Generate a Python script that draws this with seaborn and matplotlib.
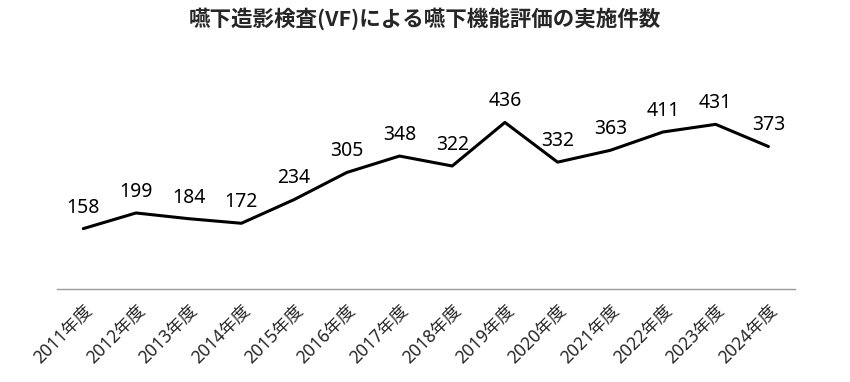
import matplotlib
import pandas as pd
import seaborn as sns

matplotlib.use("Agg")
import matplotlib.pyplot as plt

years = ["2011年度", "2012年度", "2013年度", "2014年度", "2015年度", "2016年度", "2017年度",
         "2018年度", "2019年度", "2020年度", "2021年度", "2022年度", "2023年度", "2024年度"]
counts = [158, 199, 184, 172, 234, 305, 348, 322, 436, 332, 363, 411, 431, 373]
title = "嚥下造影検査(VF)による嚥下機能評価の実施件数"

sns.set_theme(style="white")
plt.rcParams["font.family"] = ["Noto Sans", "Noto Sans CJK JP", "DejaVu Sans"]

df = pd.DataFrame({"year": years, "count": counts})

fig = plt.figure(figsize=(8.5, 3.82), dpi=100)
ax = fig.add_axes([0.067, 0.2435, 0.868, 0.6])
sns.lineplot(data=df, x="year", y="count", color="black", linewidth=2.2, ax=ax, sort=False)

for i, v in enumerate(counts):
    ax.annotate(str(v), (i, v), xytext=(0, 8), textcoords="offset points",
                ha="center", va="bottom", fontsize=14, color="black")

ax.set_xlim(-0.5, len(years) - 0.5)
ax.set_ylim(0, 600)
ax.set_xlabel("")
ax.set_ylabel("")
ax.set_yticks([])
for side in ["top", "left", "right"]:
    ax.spines[side].set_visible(False)
ax.spines["bottom"].set_color("#999999")
ax.spines["bottom"].set_linewidth(1)
ax.tick_params(axis="x", length=0, pad=9)
plt.setp(ax.get_xticklabels(), rotation=45, ha="right", rotation_mode="anchor", fontsize=12.5)

fig.suptitle(title, x=0.5, y=0.98, fontsize=15.5, fontweight="bold",
             family=["Noto Sans CJK JP", "DejaVu Sans"])

fig.savefig("out.png", dpi=100)
